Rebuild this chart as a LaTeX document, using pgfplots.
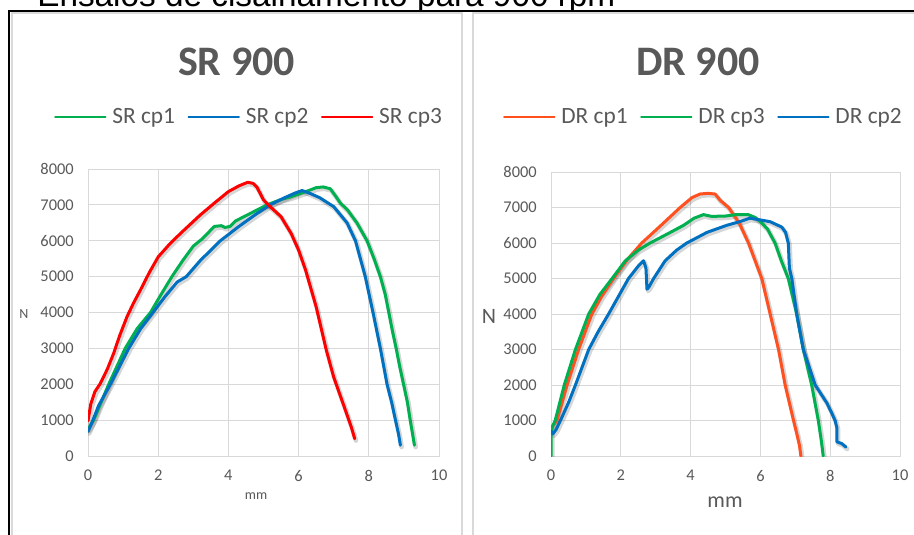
\documentclass[border=0pt]{standalone}
\usepackage{pgfplots}
\usepackage{pgfplotstable}
\pgfplotsset{compat=1.18}
\usepackage{fontspec}
\setmainfont{Carlito}
\newfontfamily\arialf{Liberation Sans}

\definecolor{gridc}{HTML}{D9D9D9}
\definecolor{labelc}{HTML}{595959}
\definecolor{xgreen}{HTML}{00B050}
\definecolor{xblue}{HTML}{0070C0}
\definecolor{xred}{HTML}{FF0000}
\definecolor{xorange}{HTML}{FF5020}

% SR 900
\pgfplotstableread{
x y
0 750
0.16 1000
0.59 2000
1.06 3000
1.4 3550
1.78 4000
2.05 4450
2.39 5000
2.7 5450
3.0 5850
3.25 6050
3.45 6250
3.6 6400
3.8 6420
3.9 6370
4.05 6400
4.2 6550
4.5 6700
4.8 6850
5.1 7000
5.5 7150
5.76 7220
6.0 7300
6.29 7400
6.5 7480
6.7 7500
6.9 7450
7.05 7250
7.19 7050
7.4 6850
7.66 6500
7.95 6000
8.15 5500
8.33 5000
8.47 4500
8.57 4000
8.67 3500
8.78 3000
8.88 2500
8.99 2000
9.1 1500
9.18 1000
9.25 600
9.3 300
}\srone
\pgfplotstableread{
x y
0 680
0.1 900
0.3 1400
0.64 2000
1.16 3000
1.5 3550
1.85 4000
2.2 4450
2.54 4850
2.8 5000
3.2 5450
3.77 6000
4.3 6400
4.8 6750
5.19 7000
5.6 7200
5.9 7330
6.1 7400
6.3 7330
6.6 7200
7.0 6950
7.38 6500
7.62 6000
7.9 5000
8.12 4000
8.33 3000
8.52 2000
8.65 1500
8.76 1000
8.85 600
8.9 300
}\srtwo
\pgfplotstableread{
x y
0 980
0.08 1450
0.2 1800
0.35 2020
0.55 2420
0.73 2860
0.9 3350
1.11 3880
1.3 4270
1.49 4620
1.75 5120
2.0 5550
2.3 5880
2.63 6200
3.2 6720
3.6 7050
4.0 7370
4.3 7530
4.55 7630
4.7 7600
4.81 7500
5.0 7140
5.19 6950
5.5 6670
5.79 6200
6.0 5740
6.2 5180
6.5 4160
6.79 2950
7.0 2200
7.3 1370
7.5 810
7.6 480
}\srthree

% DR 900
\pgfplotstableread{
x y
0 700
0.05 850
0.17 1000
0.46 2000
0.79 3000
1.17 4000
1.45 4500
1.79 5000
2.2 5550
2.6 6000
3.1 6450
3.7 7000
4.04 7280
4.27 7380
4.5 7400
4.7 7380
4.85 7200
5.09 7000
5.4 6550
5.66 6000
5.85 5500
6.04 5000
6.28 4000
6.52 3000
6.71 2000
6.95 1000
7.05 600
7.12 300
7.16 0
}\drone
\pgfplotstableread{
x y
0 0
0 700
0.05 850
0.12 1000
0.38 2000
0.70 3000
1.08 4000
1.4 4550
1.75 5000
2.13 5500
2.5 5800
2.84 6000
3.42 6300
3.8 6500
4.1 6700
4.37 6800
4.6 6750
5.0 6760
5.3 6800
5.65 6800
5.85 6720
6.0 6600
6.2 6400
6.42 6000
6.6 5500
6.8 5000
7.04 4000
7.23 3000
7.47 2000
7.66 1000
7.75 400
7.8 0
}\drthree
\pgfplotstableread{
x y
0 700
0.05 620
0.15 750
0.27 1000
0.5 1500
0.7 2000
1.08 3000
1.35 3500
1.65 4000
2.22 5000
2.5 5350
2.65 5500
2.72 5300
2.75 4700
2.8 4750
2.94 5000
3.27 5500
3.6 5800
3.89 6000
4.47 6300
5.04 6500
5.4 6600
5.7 6700
6.0 6650
6.28 6600
6.61 6450
6.72 6300
6.8 6000
6.83 5300
6.9 5000
7.04 4000
7.23 3000
7.4 2500
7.57 2000
7.9 1500
8.05 1200
8.14 1000
8.19 800
8.19 400
8.33 350
8.45 250
}\drtwo

\pgfplotsset{
  excel/.style={
    scale only axis,
    xmin=0, xmax=10, ymin=0, ymax=8000,
    xtick={0,2,...,10}, ytick={0,1000,...,8000},
    grid=major,
    major grid style={draw=gridc, line width=0.75pt},
    axis line style={draw=gridc, line width=0.75pt},
    tick style={draw=none},
    ticklabel style={font=\fontsize{12.3}{14}\selectfont, text=labelc},
    scaled y ticks=false,
    /pgf/number format/assume math mode=true,
    /pgf/number format/1000 sep={},
    yticklabel style={anchor=east, inner sep=0pt, xshift=-10.5pt},
    xticklabel style={anchor=north, inner sep=0pt, yshift=-10.5pt},
    every axis plot/.append style={line width=2.25pt, line join=round, line cap=round},
    legend columns=3,
    legend cell align=left,
    legend image code/.code={\draw[#1, line width=1.1pt] (0pt,0pt) -- (38pt,0pt);},
    legend style={draw=none, fill=none, text=labelc,
      font=\fontsize{17.5}{19}\selectfont, anchor=center,
      nodes={inner sep=0pt},
      /tikz/every even column/.append style={column sep=9.5pt},
      /tikz/every odd column/.append style={column sep=4.5pt}},
  },
  shadow/.style={black, opacity=0.16, line width=3.6pt, forget plot,
    /tikz/xshift=0.9pt, /tikz/yshift=-1.3pt},
}

\begin{document}
\begin{tikzpicture}
\begin{scope}[x=0.75pt, y=-0.75pt]
  \useasboundingbox (0,0) rectangle (914,535);
  \node[anchor=base west, inner sep=0pt, font=\arialf\fontsize{25}{28}\selectfont] at (37,7) {Ensaios de cisalhamento para 900 rpm};
  \fill[white] (9,11) rectangle (930,545);
  \draw[gridc, line width=1.5pt] (12,545) -- (12,13) -- (462,13) -- (462,545);
  \draw[gridc, line width=1.5pt] (473,545) -- (473,13) -- (930,13);
  \draw[black, line width=1.5pt] (9,545) -- (9,11) -- (930,11);
  \node[font=\bfseries\fontsize{31.5}{34}\selectfont, text=labelc] at (236.5,62) {SR 900};
  \node[font=\bfseries\fontsize{31.5}{34}\selectfont, text=labelc] at (698,62) {DR 900};
  \node[font=\fontsize{10.5}{12}\selectfont, text=labelc] at (24,314) {N};
  \node[font=\fontsize{10.5}{12}\selectfont, text=labelc] at (256,496) {mm};
  \node[font=\fontsize{16.5}{18}\selectfont, text=labelc] at (489,316) {N};
  \node[font=\fontsize{16.5}{18}\selectfont, text=labelc] at (725,502) {mm};
\end{scope}

% SR 900
\begin{axis}[excel,
  at={(66pt,-342pt)}, anchor=south west,
  width=263.25pt, height=215.25pt,
  legend style={at={(0.456,1.181)}},
]
\addplot[shadow] table {\srone};
\addplot[shadow] table {\srtwo};
\addplot[shadow] table {\srthree};
\addplot[xgreen] table {\srone};
\addlegendentry{SR cp1}
\addplot[xblue] table {\srtwo};
\addlegendentry{SR cp2}
\addplot[xred] table {\srthree};
\addlegendentry{SR cp3}
\end{axis}

% DR 900
\begin{axis}[excel,
  at={(413.25pt,-342pt)}, anchor=south west,
  width=261.75pt, height=213pt,
  legend style={at={(0.434,1.194)}},
]
\addplot[shadow] table {\drone};
\addplot[shadow] table {\drthree};
\addplot[shadow] table {\drtwo};
\addplot[xorange] table {\drone};
\addlegendentry{DR cp1}
\addplot[xgreen] table {\drthree};
\addlegendentry{DR cp3}
\addplot[xblue] table {\drtwo};
\addlegendentry{DR cp2}
\end{axis}
\end{tikzpicture}
\end{document}
